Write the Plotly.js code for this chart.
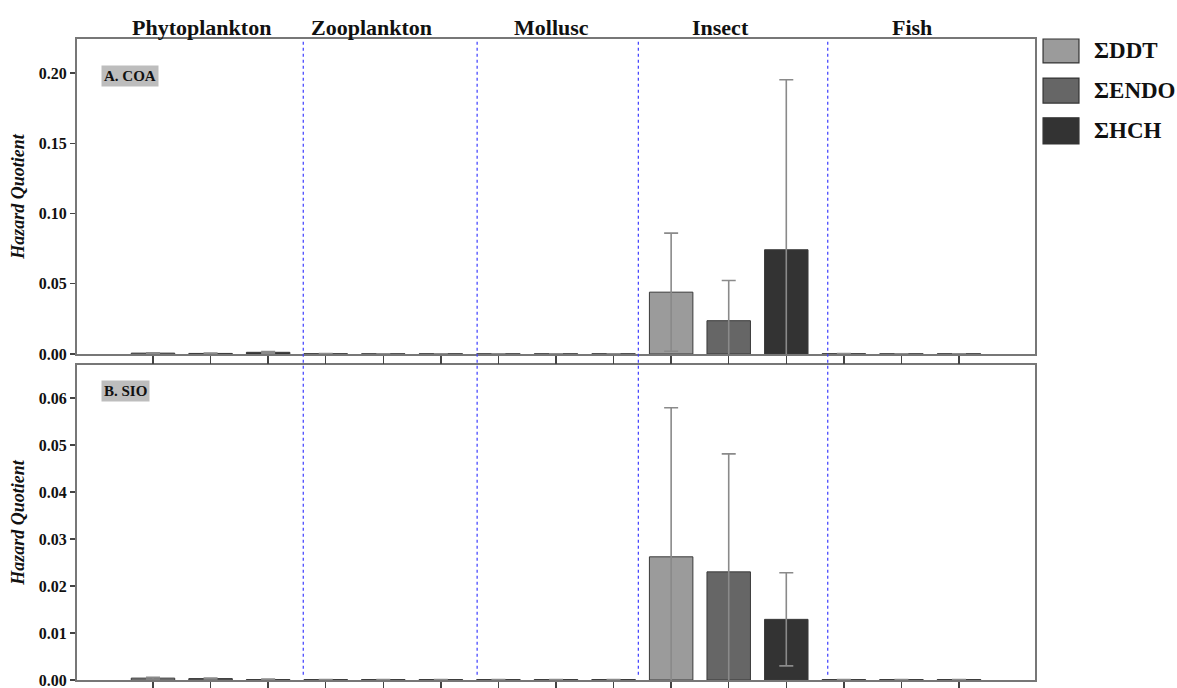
<!DOCTYPE html>
<html>
<head>
<meta charset="utf-8">
<script src="https://cdn.plot.ly/plotly-3.0.1.min.js"></script>
<style>html,body{margin:0;padding:0;background:#fff;}#chart{width:1177px;height:688px;}</style>
</head>
<body>
<div id="chart"></div>
<script>
// ---- Data ----
var groups = ['Phytoplankton', 'Zooplankton', 'Mollusc', 'Insect', 'Fish'];
var seriesNames = ['ΣDDT', 'ΣENDO', 'ΣHCH'];
var seriesColors = ['#9b9b9b', '#666666', '#333333'];

// A. COA
var coaDDT     = [0.0006, 0.0002, 0.0001, 0.0440, 0.0002];
var coaDDTErr  = [0.0003, 0.0001, 0.0000, 0.0420, 0.0001];
var coaENDO    = [0.0004, 0.0001, 0.0001, 0.0237, 0.0001];
var coaENDOErr = [0.0002, 0.0000, 0.0000, 0.0286, 0.0000];
var coaHCH     = [0.0012, 0.0001, 0.0001, 0.0742, 0.0001];
var coaHCHErr  = [0.0006, 0.0000, 0.0000, 0.1210, 0.0000];

// B. SIO
var sioDDT     = [0.0004, 0.0001, 0.0001, 0.0262, 0.0001];
var sioDDTErr  = [0.0002, 0.0000, 0.0000, 0.0317, 0.0000];
var sioENDO    = [0.0003, 0.0001, 0.0001, 0.0230, 0.0001];
var sioENDOErr = [0.0001, 0.0000, 0.0000, 0.0251, 0.0000];
var sioHCH     = [0.0001, 0.0001, 0.0001, 0.0129, 0.0001];
var sioHCHErr  = [0.0001, 0.0000, 0.0000, 0.0099, 0.0000];

var coaTicks = [0, 0.05, 0.10, 0.15, 0.20];
var sioTicks = [0, 0.01, 0.02, 0.03, 0.04, 0.05, 0.06];
var panelLabels = ['A. COA', 'B. SIO'];
var yTitle = 'Hazard Quotient';
// divider positions between groups (in category-slot units)
var dividers = [2.61, 5.63, 8.43, 11.72];
var headerPos = [0.84, 3.80, 6.93, 9.85, 13.19];

// ---- Build ----
var SERIF = '"Liberation Serif", serif';
var coaVals = [coaDDT, coaENDO, coaHCH], coaErrs = [coaDDTErr, coaENDOErr, coaHCHErr];
var sioVals = [sioDDT, sioENDO, sioHCH], sioErrs = [sioDDTErr, sioENDOErr, sioHCHErr];

function positions(s) { return groups.map(function (g, gi) { return gi * 3 + s; }); }

var traces = [];
function addPanel(vals, errs, xa, ya) {
  for (var s = 0; s < seriesNames.length; s++) {
    traces.push({
      type: 'bar', name: seriesNames[s], x: positions(s), y: vals[s],
      xaxis: xa, yaxis: ya, width: 0.755, showlegend: false,
      marker: { color: seriesColors[s], line: { color: '#3a3a3a', width: 1 } },
      error_y: { type: 'data', array: errs[s], visible: true, color: '#8a8a8a', thickness: 1.6, width: 7 },
      hoverinfo: 'skip'
    });
  }
}
addPanel(coaVals, coaErrs, 'x2', 'y2');
addPanel(sioVals, sioErrs, 'x', 'y');

var allTicks = [];
for (var i = 0; i < groups.length * 3; i++) allTicks.push(i);

function xAxis(anchor) {
  return {
    anchor: anchor, range: [-1.32, 15.32], tickvals: allTicks, ticks: 'outside', ticklen: 8,
    tickwidth: 1.5, tickcolor: '#444', showticklabels: false, showline: true, linecolor: '#777',
    linewidth: 2, mirror: true, showgrid: false, zeroline: false, fixedrange: true
  };
}
function yAxis(anchor, domain, range, tv) {
  return {
    anchor: anchor, domain: domain, range: range, tickvals: tv, tickformat: '.2f',
    ticks: 'outside', ticklen: 5, tickwidth: 1.5, tickcolor: '#444',
    ticklabeloverflow: 'allow',
    tickfont: { family: SERIF, size: 16, color: '#111', weight: 'bold' },
    showline: true, linecolor: '#777', linewidth: 2, mirror: true, showgrid: false, zeroline: false,
    title: { text: yTitle, standoff: 9, font: { family: SERIF, size: 18, color: '#111', weight: 'bold', style: 'italic' } }
  };
}

var shapes = [];
dividers.forEach(function (d) {
  shapes.push({ type: 'line', xref: 'x', yref: 'paper', x0: d, x1: d, y0: 0.008, y1: 1.0,
    line: { color: '#3d3dff', width: 1.2, dash: 'dot' } });
});

var annotations = [];
groups.forEach(function (g, gi) {
  annotations.push({ text: g, xref: 'x', yref: 'paper', x: headerPos[gi], y: 1.0187,
    xanchor: 'center', yanchor: 'middle', showarrow: false,
    font: { family: SERIF, size: 22, color: '#111', weight: 'bold' } });
});
annotations.push({ text: panelLabels[0], xref: 'paper', yref: 'paper', x: 0.025, y: 0.943,
  xanchor: 'left', yanchor: 'middle', showarrow: false, bgcolor: '#bdbdbd', borderpad: 2,
  font: { family: SERIF, size: 15, color: '#111', weight: 'bold' } });
annotations.push({ text: panelLabels[1], xref: 'paper', yref: 'paper', x: 0.025, y: 0.451,
  xanchor: 'left', yanchor: 'middle', showarrow: false, bgcolor: '#bdbdbd', borderpad: 2,
  font: { family: SERIF, size: 15, color: '#111', weight: 'bold' } });

// custom legend (paper coords)
var legTop = [1.0, 0.939, 0.877], legBot = [0.9626, 0.900, 0.8362];
seriesNames.forEach(function (n, s) {
  shapes.push({ type: 'rect', xref: 'paper', yref: 'paper', x0: 1.0084, x1: 1.0459,
    y0: legBot[s], y1: legTop[s], fillcolor: seriesColors[s], line: { color: '#333', width: 1.2 } });
  annotations.push({ text: n, xref: 'paper', yref: 'paper', x: 1.0595, y: (legTop[s] + legBot[s]) / 2,
    xanchor: 'left', yanchor: 'middle', showarrow: false,
    font: { family: SERIF, size: 23, color: '#111', weight: 'bold' } });
});

var layout = {
  width: 1177, height: 688,
  margin: { l: 77, r: 142, t: 39, b: 8 },
  paper_bgcolor: '#fff', plot_bgcolor: '#fff',
  showlegend: false, bargap: 0,
  xaxis: xAxis('y'),
  xaxis2: xAxis('y2'),
  yaxis: yAxis('x', [0, 0.4914], [0, 0.067], sioTicks),
  yaxis2: yAxis('x2', [0.5086, 1], [0, 0.2242], coaTicks),
  shapes: shapes, annotations: annotations
};

Plotly.newPlot('chart', traces, layout, { displayModeBar: false, staticPlot: true });
</script>
</body>
</html>
